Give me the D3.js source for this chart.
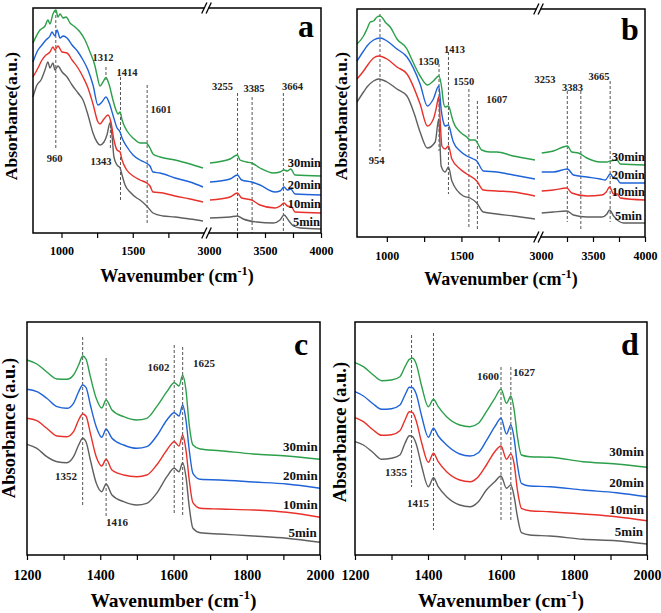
<!DOCTYPE html>
<html><head><meta charset="utf-8">
<script src="https://cdn.jsdelivr.net/npm/d3@7"></script>
<style>body{margin:0;background:#fff}svg{display:block}</style>
</head><body><svg id="chart" width="661" height="613"></svg>
<script>
// ---------- DATA ----------
const timeLabels = ["5min", "10min", "20min", "30min"];
const seriesColors = ["#5f5f5f", "#e8312b", "#1f63d8", "#2b9f4a"];

// Panel a : [wavenumber, absorbance]
const a5 = [[800,1.36],[828,1.48],[856,1.53],[884,1.63],[905,1.71],[919,1.65],[940,1.70],[954,1.63],[975,1.67],[1004,1.61],[1039,1.56],[1074,1.48],[1116,1.40],[1151,1.33],[1186,1.18],[1221,1.00],[1249,0.91],[1270,0.88],[1298,0.91],[1319,0.98],[1340,1.10],[1354,0.98],[1368,0.76],[1390,0.68],[1411,0.65],[1425,0.58],[1446,0.48],[1481,0.41],[1528,0.35],[1551,0.33],[1598,0.27],[1642,0.20],[1712,0.17],[1797,0.16],[1902,0.14],[1993,0.12],
  [3009,0.15],[3188,0.16],[3253,0.17],[3306,0.14],[3426,0.11],[3574,0.10],[3634,0.13],[3670,0.18],[3708,0.13],[3753,0.07],[3813,0.05],[4000,0.04]];
const a10 = [[800,1.56],[835,1.65],[863,1.73],[891,1.78],[919,1.81],[940,1.86],[954,1.83],[975,1.87],[1004,1.81],[1039,1.80],[1074,1.73],[1116,1.65],[1151,1.56],[1186,1.45],[1221,1.29],[1256,1.11],[1270,1.09],[1298,1.14],[1326,1.18],[1347,1.11],[1368,0.93],[1390,0.83],[1411,0.81],[1425,0.73],[1458,0.63],[1502,0.57],[1551,0.53],[1598,0.50],[1621,0.47],[1642,0.41],[1712,0.40],[1797,0.37],[1902,0.34],[1993,0.31],
  [3009,0.33],[3188,0.36],[3253,0.40],[3292,0.35],[3381,0.33],[3455,0.28],[3589,0.25],[3634,0.27],[3670,0.30],[3699,0.27],[3738,0.26],[3768,0.21],[4000,0.20]];
const a20 = [[800,1.71],[835,1.83],[863,1.88],[891,1.93],[919,1.97],[933,2.01],[954,1.97],[968,2.03],[990,1.95],[1011,1.97],[1039,1.95],[1074,1.88],[1116,1.81],[1151,1.73],[1186,1.63],[1221,1.48],[1256,1.28],[1284,1.31],[1312,1.36],[1340,1.28],[1361,1.18],[1390,1.05],[1411,1.01],[1425,0.95],[1460,0.86],[1502,0.78],[1551,0.73],[1593,0.70],[1621,0.67],[1642,0.61],[1691,0.60],[1797,0.55],[1902,0.51],[1993,0.46],
  [3009,0.51],[3188,0.54],[3253,0.58],[3292,0.53],[3381,0.51],[3455,0.48],[3589,0.41],[3634,0.42],[3670,0.46],[3699,0.43],[3730,0.44],[3768,0.39],[4000,0.38]];
const a30 = [[800,1.90],[849,2.03],[884,2.07],[905,2.13],[919,2.09],[940,2.19],[961,2.23],[975,2.16],[990,2.19],[1011,2.15],[1032,2.16],[1060,2.10],[1095,2.06],[1130,2.01],[1165,1.93],[1200,1.81],[1235,1.67],[1249,1.58],[1270,1.47],[1291,1.51],[1312,1.555],[1333,1.49],[1361,1.33],[1382,1.23],[1397,1.19],[1411,1.21],[1425,1.13],[1460,1.02],[1502,0.95],[1551,0.90],[1593,0.90],[1621,0.85],[1642,0.79],[1691,0.76],[1797,0.73],[1902,0.69],[1993,0.65],
  [3009,0.70],[3188,0.74],[3253,0.78],[3277,0.73],[3337,0.71],[3381,0.70],[3455,0.65],[3574,0.60],[3634,0.61],[3670,0.63],[3699,0.62],[3730,0.64],[3768,0.58],[4000,0.57]];

// Panel b
const b5 = [[800,1.35],[844,1.45],[867,1.50],[911,1.56],[945,1.58],[1001,1.55],[1068,1.48],[1135,1.41],[1180,1.25],[1223,1.05],[1272,0.89],[1324,0.95],[1348,1.18],[1364,0.71],[1391,0.65],[1413,0.70],[1436,0.56],[1513,0.41],[1558,0.39],[1603,0.34],[1647,0.25],[1737,0.23],[1848,0.21],[1993,0.18],
  [3007,0.24],[3119,0.25],[3248,0.26],[3312,0.22],[3441,0.20],[3586,0.20],[3634,0.23],[3659,0.27],[3698,0.21],[3746,0.16],[3794,0.14],[4000,0.14]];
const b10 = [[800,1.58],[844,1.66],[867,1.71],[911,1.79],[945,1.81],[1001,1.78],[1068,1.70],[1135,1.63],[1223,1.33],[1272,1.11],[1312,1.18],[1330,1.28],[1348,1.40],[1357,1.18],[1369,0.91],[1391,0.88],[1413,0.91],[1436,0.78],[1491,0.68],[1536,0.63],[1603,0.56],[1647,0.47],[1737,0.46],[1848,0.45],[1993,0.41],
  [3007,0.46],[3119,0.47],[3248,0.49],[3296,0.44],[3441,0.41],[3586,0.42],[3627,0.45],[3659,0.50],[3698,0.43],[3736,0.43],[3762,0.39],[4000,0.37]];
const b20 = [[800,1.76],[844,1.86],[867,1.91],[911,1.97],[956,1.99],[1001,1.96],[1068,1.88],[1135,1.80],[1223,1.53],[1272,1.31],[1312,1.38],[1348,1.51],[1364,1.28],[1379,1.15],[1391,1.11],[1413,1.12],[1436,1.00],[1446,0.95],[1491,0.86],[1536,0.81],[1580,0.78],[1603,0.76],[1647,0.66],[1737,0.65],[1848,0.62],[1993,0.58],
  [3007,0.65],[3119,0.65],[3254,0.68],[3312,0.62],[3441,0.60],[3569,0.58],[3618,0.57],[3666,0.63],[3698,0.59],[3731,0.58],[3762,0.54],[4000,0.54]];
const b30 = [[800,1.93],[844,2.01],[867,2.08],[889,2.15],[911,2.16],[934,2.20],[956,2.21],[976,2.18],[989,2.15],[1023,2.10],[1068,1.98],[1135,1.88],[1157,1.81],[1223,1.61],[1272,1.52],[1312,1.56],[1348,1.61],[1369,1.48],[1379,1.35],[1391,1.30],[1413,1.31],[1436,1.20],[1446,1.15],[1491,1.05],[1536,1.00],[1558,0.97],[1590,0.97],[1636,0.87],[1691,0.85],[1737,0.85],[1848,0.81],[1993,0.77],
  [3007,0.84],[3119,0.86],[3254,0.91],[3296,0.85],[3360,0.84],[3441,0.79],[3569,0.75],[3634,0.75],[3666,0.76],[3731,0.77],[3762,0.73],[4000,0.72]];

// Panel c (shared wavenumbers)
const xC = [1200,1227,1254,1282,1309,1327,1341,1352,1361,1373,1389,1404,1416,1432,1464,1500,1527,1554,1582,1602,1615,1625,1634,1643,1653,1673,1727,1818,1909,2000];
const c5  = [1.107,1.067,0.983,0.933,0.923,0.983,1.10,1.167,1.133,0.95,0.72,0.633,0.71,0.60,0.533,0.50,0.517,0.617,0.783,0.867,0.833,0.923,0.783,0.483,0.267,0.223,0.21,0.19,0.167,0.127];
const c10 = [1.367,1.343,1.267,1.19,1.183,1.233,1.35,1.41,1.39,1.217,0.983,0.89,0.957,0.85,0.80,0.783,0.80,0.90,1.05,1.133,1.09,1.20,1.05,0.75,0.523,0.467,0.46,0.45,0.427,0.377];
const c20 = [1.657,1.633,1.567,1.483,1.467,1.517,1.633,1.70,1.677,1.50,1.283,1.177,1.257,1.167,1.10,1.067,1.083,1.19,1.35,1.423,1.39,1.50,1.35,1.05,0.817,0.757,0.75,0.73,0.71,0.667];
const c30 = [1.95,1.91,1.83,1.76,1.757,1.80,1.90,1.99,1.96,1.783,1.567,1.47,1.55,1.45,1.383,1.35,1.367,1.483,1.633,1.723,1.69,1.797,1.65,1.30,1.10,1.06,1.043,1.01,0.99,0.957];

// Panel d (shared wavenumbers)
const xD = [1200,1223,1250,1273,1300,1323,1337,1349,1358,1367,1383,1401,1415,1428,1451,1487,1515,1538,1560,1583,1600,1615,1627,1636,1645,1656,1679,1734,1825,1916,2000];
const d5  = [1.133,1.10,1.023,0.957,0.967,1.00,1.117,1.193,1.183,1.117,0.883,0.683,0.773,0.683,0.583,0.50,0.483,0.533,0.65,0.733,0.79,0.667,0.70,0.583,0.383,0.223,0.20,0.19,0.157,0.143,0.11];
const d10 = [1.373,1.333,1.25,1.197,1.203,1.243,1.35,1.433,1.423,1.35,1.117,0.927,1.017,0.933,0.833,0.75,0.733,0.783,0.90,1.033,1.09,0.957,1.01,0.91,0.65,0.467,0.443,0.433,0.41,0.383,0.343];
const d20 = [1.633,1.59,1.51,1.457,1.463,1.50,1.60,1.677,1.673,1.617,1.383,1.177,1.267,1.19,1.10,1.01,0.99,1.023,1.143,1.283,1.367,1.21,1.30,1.167,0.90,0.717,0.69,0.683,0.65,0.623,0.583];
const d30 = [1.923,1.883,1.80,1.743,1.75,1.783,1.883,1.957,1.967,1.917,1.683,1.483,1.557,1.483,1.383,1.30,1.283,1.317,1.433,1.567,1.657,1.517,1.59,1.45,1.183,1.00,0.983,0.977,0.933,0.91,0.877];

// Dashed reference lines: [wavenumber, top absorbance, bottom absorbance]
const aDash = [[960,2.23,0.83],[1312,1.66,1.53],[1343,1.13,0.83],[1414,1.56,0.31],[1601,1.48,0.08],[3255,1.40,0],[3385,1.36,0],[3664,1.40,0]];
const bDash = [[954,2.23,0.86],[1350,1.73,0.86],[1413,1.85,0.43],[1550,1.48,0.08],[1607,1.36,0.06],[3253,1.46,0.15],[3383,1.46,0.06],[3665,1.56,0.15]];
const cDash = [[1352,2.18,0.50],[1416,1.97,0.39],[1602,2.10,0.41],[1625,2.08,0.40]];
const dDash = [[1355,2.20,0.68],[1415,2.22,0.25],[1600,1.88,0.35],[1627,1.88,0.35]];

// Peak label texts
const aPeakText = ["1312","1414","1601","960","1343","3255","3385","3664"];
const bPeakText = ["954","1350","1413","1550","1607","3253","3383","3665"];
const cPeakText = ["1352","1416","1602","1625"];
const dPeakText = ["1355","1415","1600","1627"];

// ---------- LAYOUT ----------
const FONT = "'Liberation Serif','Times New Roman',Times,serif";
const zip = (xs, ys) => xs.map((x, i) => [x, ys[i]]);

const panels = [
  { letter:"a", box:{l:33,r:321,t:8,b:233}, yMax:2.25,
    segs:[{dom:[800,2000],rng:[33,204],ticks:[1000,1250,1500,1750],labels:[1000,1500]},
          {dom:[3000,4000],rng:[209,321],ticks:[3000,3250,3500,3750,4000],labels:[3000,3500,4000],noLine:[3000]}],
    brk:206.5, series:[a5,a10,a20,a30], dash:aDash,
    peaks:aPeakText, peakPos:[[103,57.5],[127,72],[161,109],[54.5,158.5],[101,161],[222.5,86],[254,88.5],[292.5,86]],
    timePos:[[320,221.5],[321,204],[321,185],[321,163]],
    letterPos:[306,37], yTitle:{x:17,y:116,text:"Absorbance(a.u.)",size:17.5}, xTitleY:282,
    tickFont:12, tickPad:8, peakFont:10.5, timeFont:12.5, titleFont:18 },
  { letter:"b", box:{l:357,r:645,t:9,b:237}, yMax:2.28,
    segs:[{dom:[800,2000],rng:[357,536],ticks:[1000,1250,1500,1750],labels:[1000,1500]},
          {dom:[3000,4000],rng:[541,645],ticks:[3000,3250,3500,3750,4000],labels:[3000,3500,4000],noLine:[3000]}],
    brk:538.5, series:[b5,b10,b20,b30], dash:bDash,
    peaks:bPeakText, peakPos:[[376.7,160],[428.7,61.7],[454.5,49],[463.7,81.7],[496.7,99],[545,79.5],[572.5,87.5],[599,76]],
    timePos:[[642,215.5],[645,192],[645,175],[645,157]],
    letterPos:[630,40], yTitle:{x:347,y:116,text:"Absorbance(a.u.)",size:17.5}, xTitleY:285,
    tickFont:12, tickPad:9, peakFont:10.5, timeFont:12.5, titleFont:18 },
  { letter:"c", box:{l:27,r:320,t:322,b:555}, yMax:2.33,
    segs:[{dom:[1200,2000],rng:[27,320],ticks:d3.range(1200,2001,100),labels:[1200,1400,1600,1800,2000]}],
    series:[zip(xC,c5),zip(xC,c10),zip(xC,c20),zip(xC,c30)], dash:cDash,
    peaks:cPeakText, peakPos:[[66,476],[117,522],[158.5,367],[204,363.5]],
    timePos:[[316.7,532.5],[317.7,504.7],[317.7,475.5],[317.7,446]],
    letterPos:[301,355], yTitle:{x:15,y:428,text:"Absorbance (a.u.)",size:18.5}, xTitleY:607,
    tickFont:14, tickPad:10, peakFont:11, timeFont:13, titleFont:19.5 },
  { letter:"d", box:{l:355,r:647,t:322,b:555}, yMax:2.33,
    segs:[{dom:[1200,2000],rng:[355,647],ticks:d3.range(1200,2001,100),labels:[1200,1400,1600,1800,2000]}],
    series:[zip(xD,d5),zip(xD,d10),zip(xD,d20),zip(xD,d30)], dash:dDash,
    peaks:dPeakText, peakPos:[[396,472.3],[418,503.5],[488,376],[524,372.5]],
    timePos:[[643,531.3],[644,509.5],[644,482],[644,451]],
    letterPos:[630,355], yTitle:{x:346,y:432,text:"Absorbance (a.u.)",size:18.5}, xTitleY:607,
    tickFont:14, tickPad:10, peakFont:11, timeFont:13, titleFont:19.5 }
];

// ---------- DRAW ----------
const svg = d3.select("#chart");
svg.append("rect").attr("width",661).attr("height",613).attr("fill","#fff");

panels.forEach(p => {
  const g = svg.append("g");
  const B = p.box;
  const y = d3.scaleLinear().domain([0, p.yMax]).range([B.b, B.t]);
  const xs = p.segs.map(s => d3.scaleLinear().domain(s.dom).range(s.rng));
  const xOf = w => { const i = p.segs.findIndex(s => w >= s.dom[0] - 1 && w <= s.dom[1] + 1); return xs[i < 0 ? 0 : i](w); };

  // dashed reference lines
  g.selectAll("line.dash").data(p.dash).join("line")
    .attr("x1", d => xOf(d[0])).attr("x2", d => xOf(d[0]))
    .attr("y1", d => y(d[1])).attr("y2", d => y(d[2]))
    .attr("stroke", "#555").attr("stroke-width", 1).attr("stroke-dasharray", "3,2");

  // spectra
  p.series.forEach((ser, si) => {
    p.segs.forEach((s, k) => {
      const pts = ser.filter(d => d[0] >= s.dom[0] - 10 && d[0] <= s.dom[1] + 10);
      const line = d3.line().x(d => xs[k](d[0])).y(d => y(d[1])).curve(d3.curveMonotoneX);
      g.append("path").datum(pts).attr("d", line)
        .attr("fill", "none").attr("stroke", seriesColors[si]).attr("stroke-width", 1.4)
        .attr("stroke-linejoin", "round");
    });
  });

  // frame
  g.append("rect").attr("x", B.l).attr("y", B.t).attr("width", B.r - B.l).attr("height", B.b - B.t)
    .attr("fill", "none").attr("stroke", "#000").attr("stroke-width", 1.5);

  // axes
  p.segs.forEach((s, k) => {
    const ax = d3.axisBottom(xs[k]).tickValues(s.ticks).tickSize(5).tickSizeOuter(0).tickPadding(p.tickPad)
      .tickFormat(d => s.labels.includes(d) ? String(d) : "");
    const ag = g.append("g").attr("transform", `translate(0,${B.b})`).call(ax);
    ag.select(".domain").remove();
    ag.selectAll(".tick line").attr("stroke", "#000").attr("stroke-width", 1.2)
      .filter(d => (s.noLine || []).includes(d)).remove();
    ag.selectAll(".tick text").attr("font-family", FONT).attr("font-weight", "bold")
      .attr("font-size", p.tickFont).attr("fill", "#000");
  });

  // axis break marks
  if (p.brk !== undefined) {
    [B.t, B.b].forEach(yy => {
      g.append("rect").attr("x", p.brk - 2).attr("y", yy - 2).attr("width", 4).attr("height", 4).attr("fill", "#fff");
      [-2.2, 2.2].forEach(dx => {
        g.append("line").attr("x1", p.brk + dx - 2.6).attr("y1", yy + 5.5)
          .attr("x2", p.brk + dx + 2.6).attr("y2", yy - 5.5)
          .attr("stroke", "#000").attr("stroke-width", 1.3);
      });
    });
  }

  // peak labels
  g.selectAll("text.peak").data(p.peaks).join("text")
    .attr("x", (d, i) => p.peakPos[i][0]).attr("y", (d, i) => p.peakPos[i][1]).attr("dy", "0.35em")
    .attr("text-anchor", "middle").attr("font-family", FONT).attr("font-weight", "bold")
    .attr("font-size", p.peakFont).attr("fill", "#222").text(d => d);

  // time labels
  g.selectAll("text.time").data(timeLabels).join("text")
    .attr("x", (d, i) => p.timePos[i][0]).attr("y", (d, i) => p.timePos[i][1]).attr("dy", "0.35em")
    .attr("text-anchor", "end").attr("font-family", FONT).attr("font-weight", "bold")
    .attr("font-size", p.timeFont).attr("fill", "#111").text(d => d);

  // panel letter
  g.append("text").attr("x", p.letterPos[0]).attr("y", p.letterPos[1]).attr("text-anchor", "middle")
    .attr("font-family", FONT).attr("font-weight", "bold").attr("font-size", 32).attr("fill", "#000").text(p.letter);

  // y title
  g.append("text").attr("transform", `translate(${p.yTitle.x},${p.yTitle.y}) rotate(-90)`)
    .attr("text-anchor", "middle").attr("font-family", FONT).attr("font-weight", "bold")
    .attr("font-size", p.yTitle.size).attr("fill", "#000").text(p.yTitle.text);

  // x title
  const xt = g.append("text").attr("x", (B.l + B.r) / 2).attr("y", p.xTitleY).attr("text-anchor", "middle")
    .attr("font-family", FONT).attr("font-weight", "bold").attr("font-size", p.titleFont).attr("fill", "#000");
  xt.append("tspan").text("Wavenumber (cm");
  xt.append("tspan").attr("dy", -p.titleFont * 0.4).attr("font-size", p.titleFont * 0.68).text("-1");
  xt.append("tspan").attr("dy", p.titleFont * 0.4).text(")");
});
</script>
</body></html>
